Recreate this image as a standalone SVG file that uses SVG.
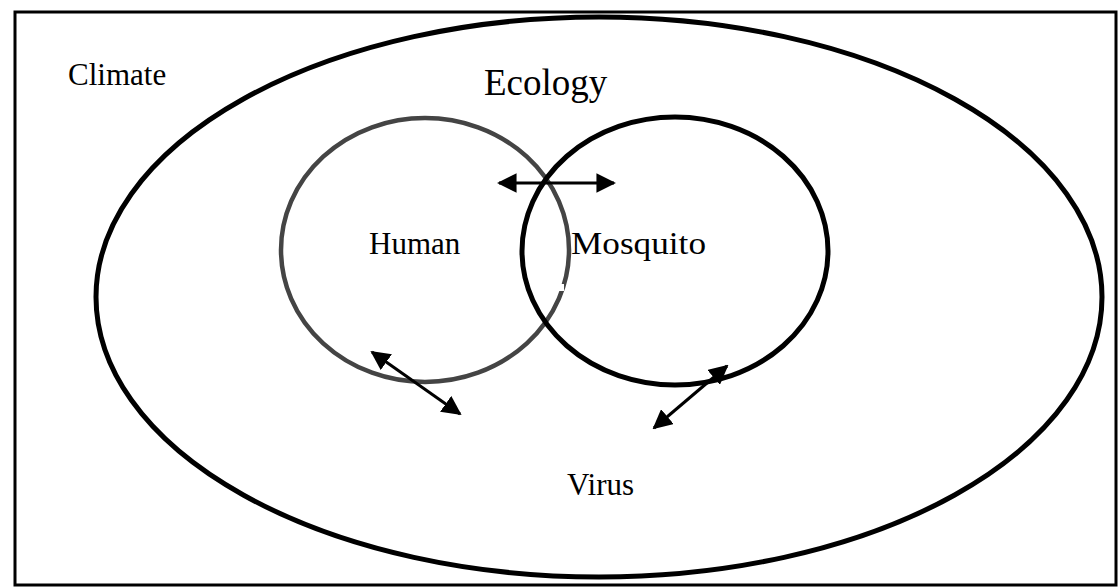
<svg xmlns="http://www.w3.org/2000/svg" width="1118" height="588" viewBox="0 0 1118 588">
<defs>
<style>
.t{font-family:"Liberation Serif",serif;fill:#000}
.ln{fill:none;stroke:#000}
</style>
<marker id="ah" viewBox="0 0 10 10" refX="9" refY="5" markerWidth="6.5" markerHeight="6.5" orient="auto-start-reverse" markerUnits="strokeWidth">
<path d="M0,0 L10,5 L0,10 Z" fill="#000"/>
</marker>
</defs>
<rect width="1118" height="588" fill="#fff"/>
<g id="climate">
<rect x="15" y="12" width="1101" height="573" class="ln" stroke-width="3"/>
<text class="t" x="68" y="85" font-size="31">Climate</text>
</g>
<g id="ecology">
<ellipse cx="599" cy="297" rx="503" ry="280" class="ln" stroke-width="5"/>
<text class="t" x="484" y="95" font-size="37">Ecology</text>
</g>
<g id="human">
<ellipse cx="425" cy="250" rx="144" ry="132" fill="none" stroke="#444" stroke-width="4.5"/>
<text class="t" x="369" y="254" font-size="31">Human</text>
</g>
<g id="mosquito">
<ellipse cx="675" cy="251" rx="153" ry="134" class="ln" stroke-width="5"/>
<text class="t" x="571" y="254" font-size="31" textLength="135" lengthAdjust="spacingAndGlyphs">Mosquito</text>
</g>
<rect x="534" y="284" width="30" height="7" fill="#fff"/>
<g id="virus">
<text class="t" x="567" y="495" font-size="31">Virus</text>
</g>
<g id="connectors" stroke="#000" stroke-width="3" fill="none">
<line x1="499" y1="183" x2="614" y2="183" marker-start="url(#ah)" marker-end="url(#ah)"/>
<line x1="372" y1="352" x2="460" y2="414" marker-start="url(#ah)" marker-end="url(#ah)"/>
<line x1="727" y1="366" x2="654" y2="428" marker-start="url(#ah)" marker-end="url(#ah)"/>
</g>
</svg>
